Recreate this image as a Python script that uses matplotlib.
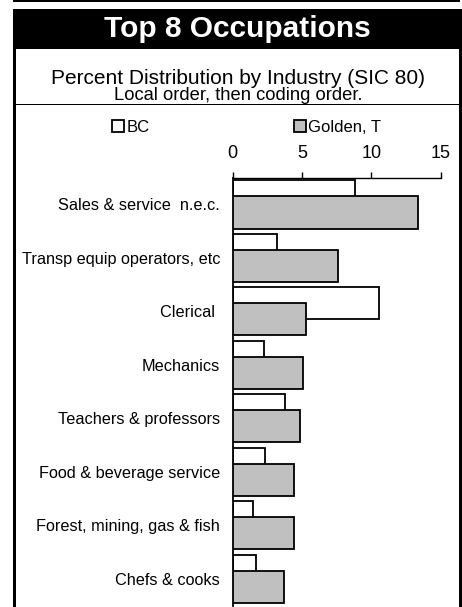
import matplotlib
matplotlib.use("Agg")
import matplotlib.pyplot as plt
from matplotlib.patches import Rectangle
import numpy as np

plt.rcParams['font.family'] = ['Liberation Sans', 'DejaVu Sans']

title = "Top 8 Occupations"
subtitle1 = "Percent Distribution by Industry (SIC 80)"
subtitle2 = "Local order, then coding order."
categories = ["Sales & service  n.e.c.", "Transp equip operators, etc", "Clerical ",
              "Mechanics", "Teachers & professors", "Food & beverage service",
              "Forest, mining, gas & fish", "Chefs & cooks"]
series_names = ["BC", "Golden, T"]
bc_values = [8.8, 3.2, 10.55, 2.3, 3.8, 2.35, 1.45, 1.7]
golden_values = [13.35, 7.6, 5.3, 5.1, 4.85, 4.4, 4.4, 3.7]
x_ticks = [0, 5, 10, 15]

W, H = 462, 607
fig = plt.figure(figsize=(W / 100, H / 100), dpi=100)

def fx(px):
    return px / W

def fy(py):
    return 1 - py / H

# frame decorations (pixel coords from the top-left)
def rect(x0, y0, x1, y1, color="black"):
    fig.patches.append(Rectangle((fx(x0), fy(y1)), fx(x1) - fx(x0), fy(y0) - fy(y1),
                                 transform=fig.transFigure, facecolor=color,
                                 edgecolor="none", zorder=0))

rect(13, 0, 460, 1.6)            # top rule
rect(13, 9, 462, 49)             # title bar
rect(13, 9, 15.5, 607)           # left border
rect(459, 9, 462, 607)           # right border
rect(15.5, 103.6, 459, 105.2)    # separator

fig.text(fx(237), fy(29), title, color="white", fontsize=21.5, fontweight="bold",
         ha="center", va="center")
fig.text(fx(238), fy(84), subtitle1, fontsize=15, ha="center", va="baseline")
fig.text(fx(238), fy(100.5), subtitle2, fontsize=13.2, ha="center", va="baseline")

# axes
ax_left, ax_right = 232.5, 440.7
ax_top = 177.7
band = 53.49
ax_bottom = ax_top + band * len(categories)
ax = fig.add_axes([fx(ax_left), fy(ax_bottom), fx(ax_right) - fx(ax_left),
                   fy(ax_top) - fy(ax_bottom)])

y = np.arange(len(categories)) + 0.5
bar_h = 0.6
off = 0.15
b1 = ax.barh(y - off, bc_values, height=bar_h, color="white", edgecolor="black",
             linewidth=1.3, label=series_names[0], zorder=2)
b2 = ax.barh(y + off, golden_values, height=bar_h, color="#c0c0c0", edgecolor="black",
             linewidth=1.3, label=series_names[1], zorder=3)

ax.set_xlim(0, 15)
ax.set_ylim(len(categories), 0)
ax.xaxis.tick_top()
ax.set_xticks(x_ticks)
ax.set_xticklabels([str(t) for t in x_ticks])
ax.tick_params(axis="x", direction="out", length=4.5, width=1, labelsize=13, pad=7)
ax.set_yticks(y)
ax.set_yticklabels(categories)
ax.tick_params(axis="y", length=0, labelsize=11.7, pad=9)
for s in ["right", "bottom"]:
    ax.spines[s].set_visible(False)
ax.spines["top"].set_linewidth(1)
ax.spines["left"].set_linewidth(1.3)
ax.set_facecolor("none")

fig.legend(handles=[b1, b2], labels=series_names, loc="center left",
           bbox_to_anchor=(fx(112), fy(127)), ncol=2, frameon=False,
           fontsize=12, handlelength=0.7, handleheight=0.7, handletextpad=0.15,
           columnspacing=8.7, borderaxespad=0, borderpad=0)

fig.savefig("out.png", dpi=100)
